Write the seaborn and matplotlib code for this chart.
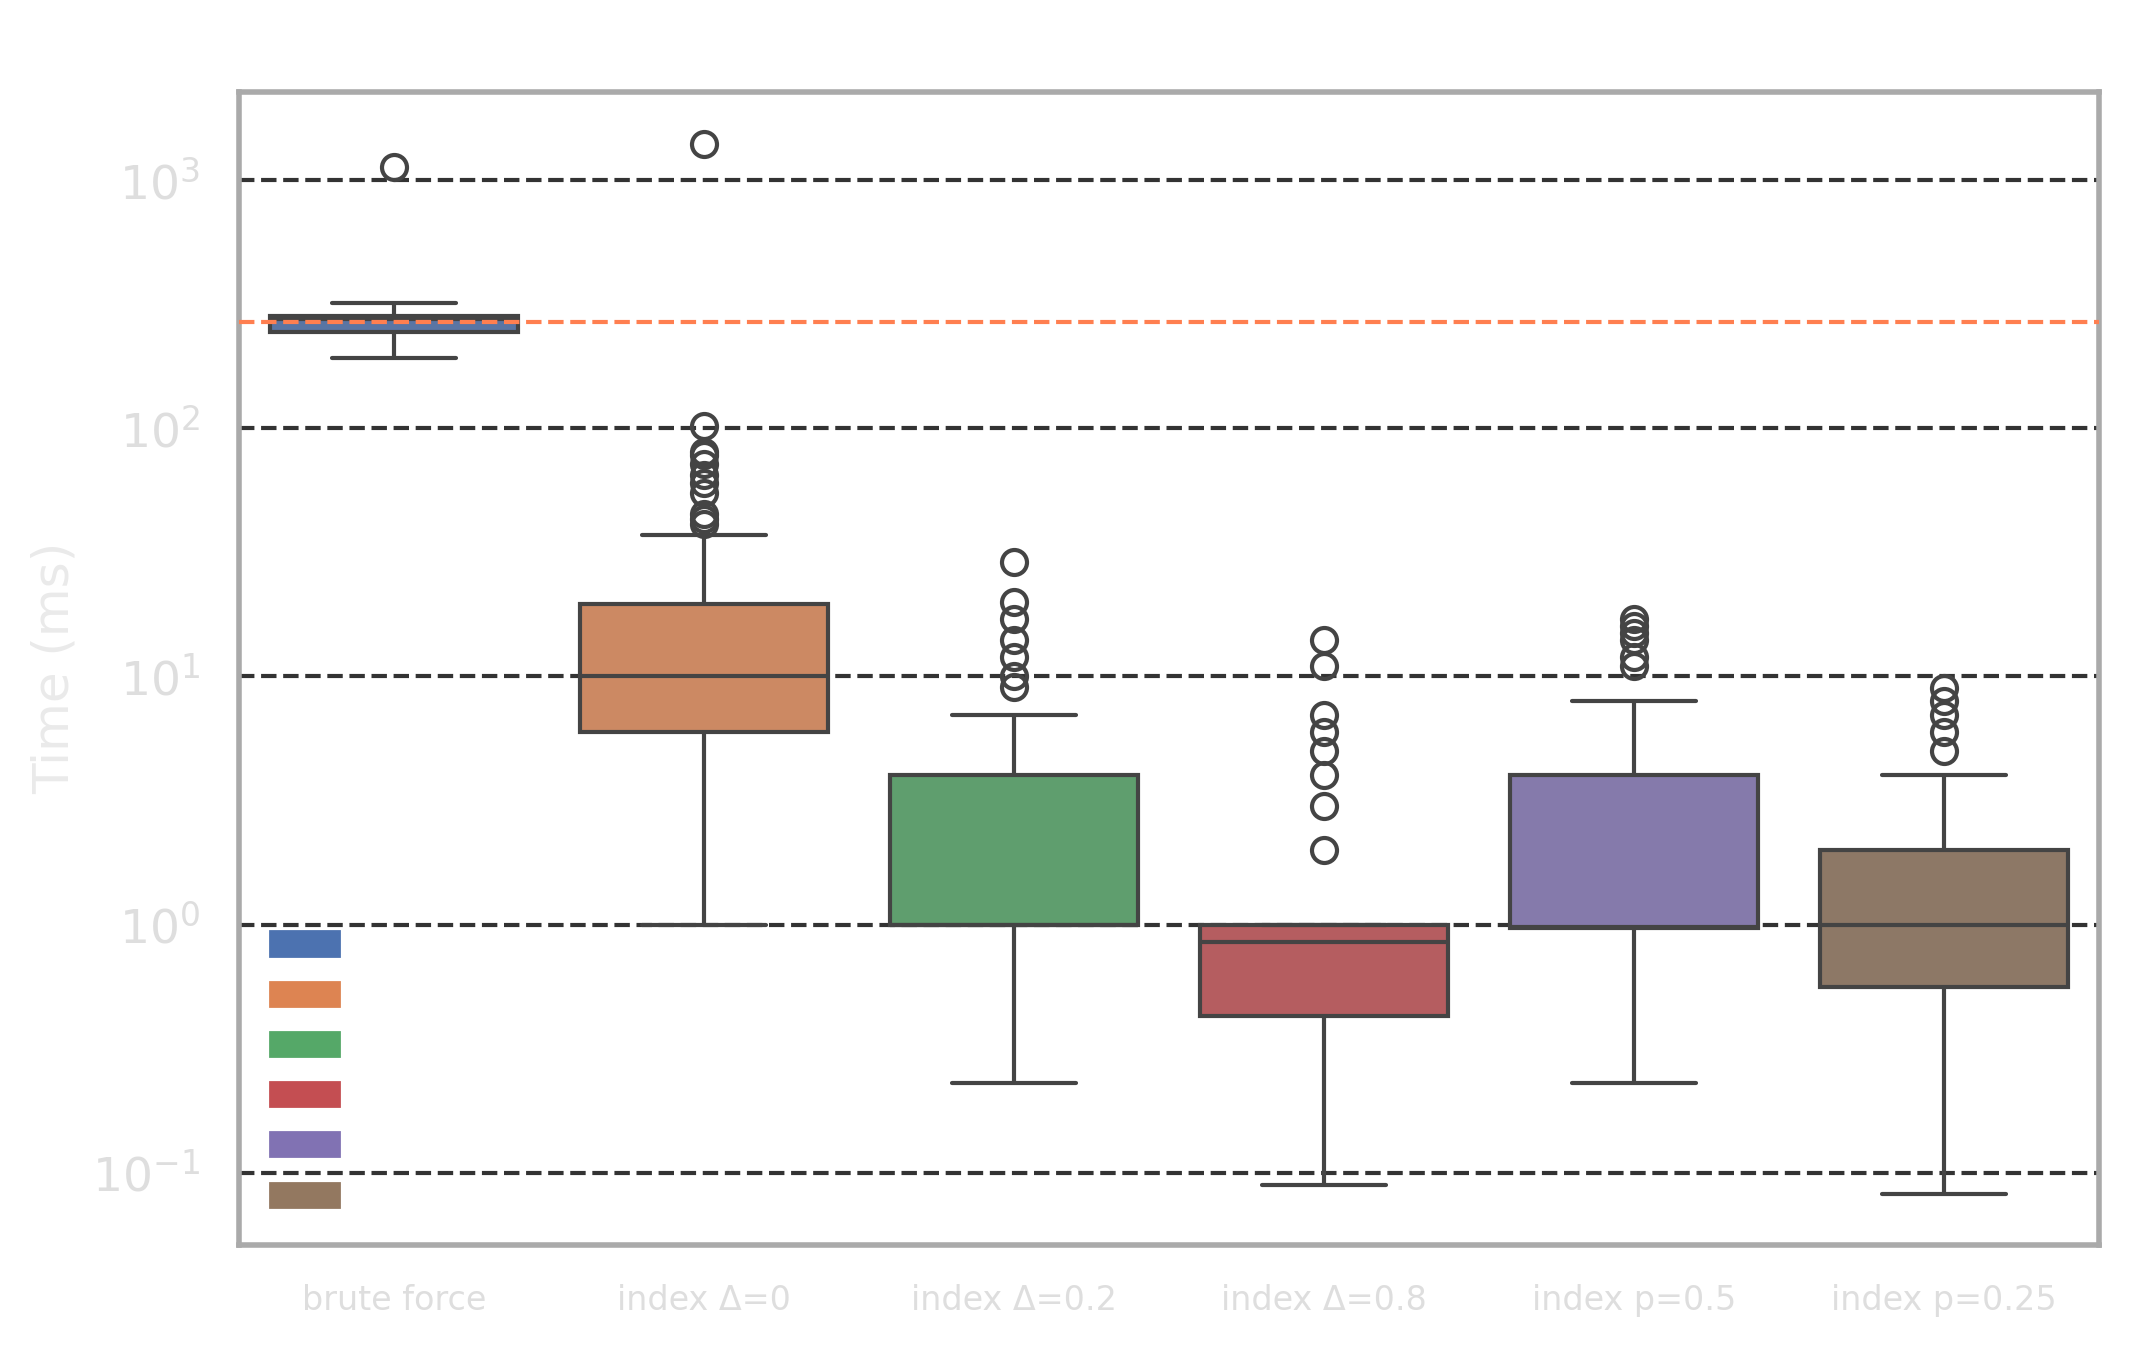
import numpy as np
import pandas as pd
import matplotlib.pyplot as plt
import matplotlib.patches as mpatches
from matplotlib.ticker import NullLocator
import seaborn as sns

sns.set_theme(style='white')
plt.rcParams['font.family'] = ['DejaVu Sans']

# box statistics (ms)
categories = ['brute force', 'index Δ=0', 'index Δ=0.2', 'index Δ=0.8', 'index p=0.5', 'index p=0.25']
whisker_low = [192, 1.0, 0.23, 0.089, 0.23, 0.082]
q1 = [245, 6.0, 1.0, 0.43, 0.97, 0.56]
median = [276, 10.0, 1.0, 0.85, 0.98, 1.0]
q3 = [283, 19.6, 4.0, 1.0, 4.0, 2.0]
whisker_high = [320, 37, 7.0, 1.0, 8.0, 4.0]
fliers = [
    [1130],
    [41, 43, 45, 55, 60, 65, 72, 78, 80, 102, 1400],
    [9.1, 10, 12, 14, 17, 20, 29],
    [2, 3, 4, 5, 6, 7, 11, 14],
    [11, 12, 14, 15, 16, 17],
    [5, 6, 7, 8, 9],
]
reference_ms = 268


def sample_from_stats(lo, a, m, b, hi, out):
    # 4k+1 values so that the 25/50/75 percentiles land exactly on a, m, b
    k = len(out) + 1
    return [lo] + [a] * k + [m] * k + [b] * k + [hi] + list(out)


rows = []
for i, cat in enumerate(categories):
    vals = sample_from_stats(whisker_low[i], q1[i], median[i], q3[i], whisker_high[i], fliers[i])
    rows += [(cat, v) for v in vals]
df = pd.DataFrame(rows, columns=['method', 'time'])

fig, ax = plt.subplots(figsize=(2129 / 200, 1350 / 200), dpi=200)
fig.subplots_adjust(left=0.1123, right=0.986, top=0.932, bottom=0.078)

line_col = '#444444'
sns.boxplot(data=df, x='method', y='time', hue='method', palette='deep', legend=False,
            order=categories, width=0.8, linewidth=1.5, linecolor=line_col, ax=ax,
            flierprops=dict(marker='o', markerfacecolor='none', markeredgecolor=line_col,
                            markersize=9, markeredgewidth=1.5))

ax.set_yscale('log')
ax.yaxis.set_minor_locator(NullLocator())
ax.set_ylim(0.0513, 2270)
ax.set_axisbelow(True)
ax.yaxis.grid(True, which='major', linestyle='--', color='#333333', linewidth=1.5)
ax.xaxis.grid(False)
ax.axhline(reference_ms, color='#ff7f50', linestyle='--', linewidth=1.5, zorder=3)

for sp in ax.spines.values():
    sp.set_visible(True)
    sp.set_color('#aaaaaa')
    sp.set_linewidth(2)

ax.tick_params(axis='both', length=0, pad=14)
ax.tick_params(axis='y', labelsize=17, labelcolor='#dedede')
ax.tick_params(axis='x', labelsize=12, labelcolor='#dedede')
ax.set_xlabel('')
ax.set_ylabel('Time (ms)', fontsize=18, color='#eaeaea', labelpad=5)

handles = [mpatches.Patch(color=c) for c in sns.color_palette('deep', len(categories))]
ax.legend(handles, categories, loc='lower left', frameon=False, fontsize=12.4, labelcolor='white')

fig.savefig('out.png', dpi=200)
